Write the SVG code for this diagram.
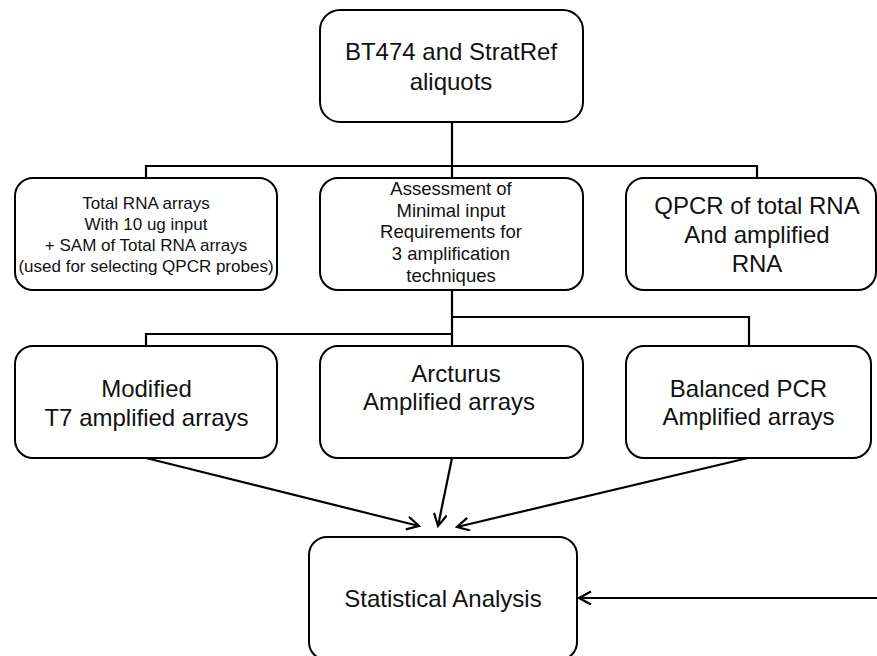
<svg xmlns="http://www.w3.org/2000/svg" width="877" height="656" viewBox="0 0 877 656">
  <style>
    .box { fill: #ffffff; stroke: #000000; stroke-width: 2; }
    .line { fill: none; stroke: #000000; stroke-width: 2.2; }
    .t { font-family: "Liberation Sans", Arial, Helvetica, sans-serif; fill: #111111; text-anchor: middle; }
    .big { font-size: 24px; }
    .mid { font-size: 18.5px; }
    .small { font-size: 17px; }
  </style>
  <defs>
    <marker id="arrow" markerUnits="userSpaceOnUse" markerWidth="16" markerHeight="16" refX="13" refY="7" orient="auto">
      <path d="M1,0.5 L13,7 L1,13.5" fill="none" stroke="#000000" stroke-width="2.2"/>
    </marker>
  </defs>
  <rect width="877" height="656" fill="#ffffff"/>

  <g id="connectors">
    <path class="line" d="M452,122 L452,178"/>
    <path class="line" d="M146,178 L146,166 L757,166 L757,178"/>
    <path class="line" d="M452,290 L452,346"/>
    <path class="line" d="M146,346 L146,334 L452,334"/>
    <path class="line" d="M452,317 L749,317 L749,346"/>
    <path class="line" d="M146,458 L419,526" marker-end="url(#arrow)"/>
    <path class="line" d="M452,458 L438,526" marker-end="url(#arrow)"/>
    <path class="line" d="M748,458 L457,527" marker-end="url(#arrow)"/>
    <path class="line" d="M877,598 L579,598" marker-end="url(#arrow)"/>
  </g>

  <g id="node-aliquots">
    <rect class="box" x="320" y="10" width="263" height="112" rx="20" ry="20"/>
    <text class="t big" x="451" y="60">BT474 and StratRef</text>
    <text class="t big" x="451" y="90">aliquots</text>
  </g>

  <g id="node-total-rna">
    <rect class="box" x="15" y="178" width="262" height="112" rx="18" ry="18"/>
    <text class="t small" x="146" y="209">Total RNA arrays</text>
    <text class="t small" x="146" y="230">With 10 ug input</text>
    <text class="t small" x="146" y="251">+ SAM of Total RNA arrays</text>
    <text class="t small" x="146" y="272">(used for selecting QPCR probes)</text>
  </g>

  <g id="node-assessment">
    <rect class="box" x="320" y="178" width="263" height="112" rx="18" ry="18"/>
    <text class="t mid" x="451" y="195">Assessment of</text>
    <text class="t mid" x="451" y="216.7">Minimal input</text>
    <text class="t mid" x="451" y="238.4">Requirements for</text>
    <text class="t mid" x="451" y="260">3 amplification</text>
    <text class="t mid" x="451" y="281.7">techniques</text>
  </g>

  <g id="node-qpcr">
    <rect class="box" x="626" y="178" width="250" height="112" rx="18" ry="18"/>
    <text class="t big" x="757" y="214">QPCR of total RNA</text>
    <text class="t big" x="757" y="243">And amplified</text>
    <text class="t big" x="757" y="272">RNA</text>
  </g>

  <g id="node-t7">
    <rect class="box" x="15" y="346" width="262" height="112" rx="18" ry="18"/>
    <text class="t big" x="146.5" y="397">Modified</text>
    <text class="t big" x="146.5" y="426">T7 amplified arrays</text>
  </g>

  <g id="node-arcturus">
    <rect class="box" x="320" y="346" width="263" height="112" rx="18" ry="18"/>
    <text class="t big" x="456" y="382">Arcturus</text>
    <text class="t big" x="449" y="410">Amplified arrays</text>
  </g>

  <g id="node-balanced">
    <rect class="box" x="626" y="346" width="245" height="112" rx="18" ry="18"/>
    <text class="t big" x="748.5" y="397">Balanced PCR</text>
    <text class="t big" x="748.5" y="425">Amplified arrays</text>
  </g>

  <g id="node-statistical">
    <rect class="box" x="309" y="537" width="268" height="123" rx="18" ry="18"/>
    <text class="t big" x="443" y="606.5">Statistical Analysis</text>
  </g>
</svg>
